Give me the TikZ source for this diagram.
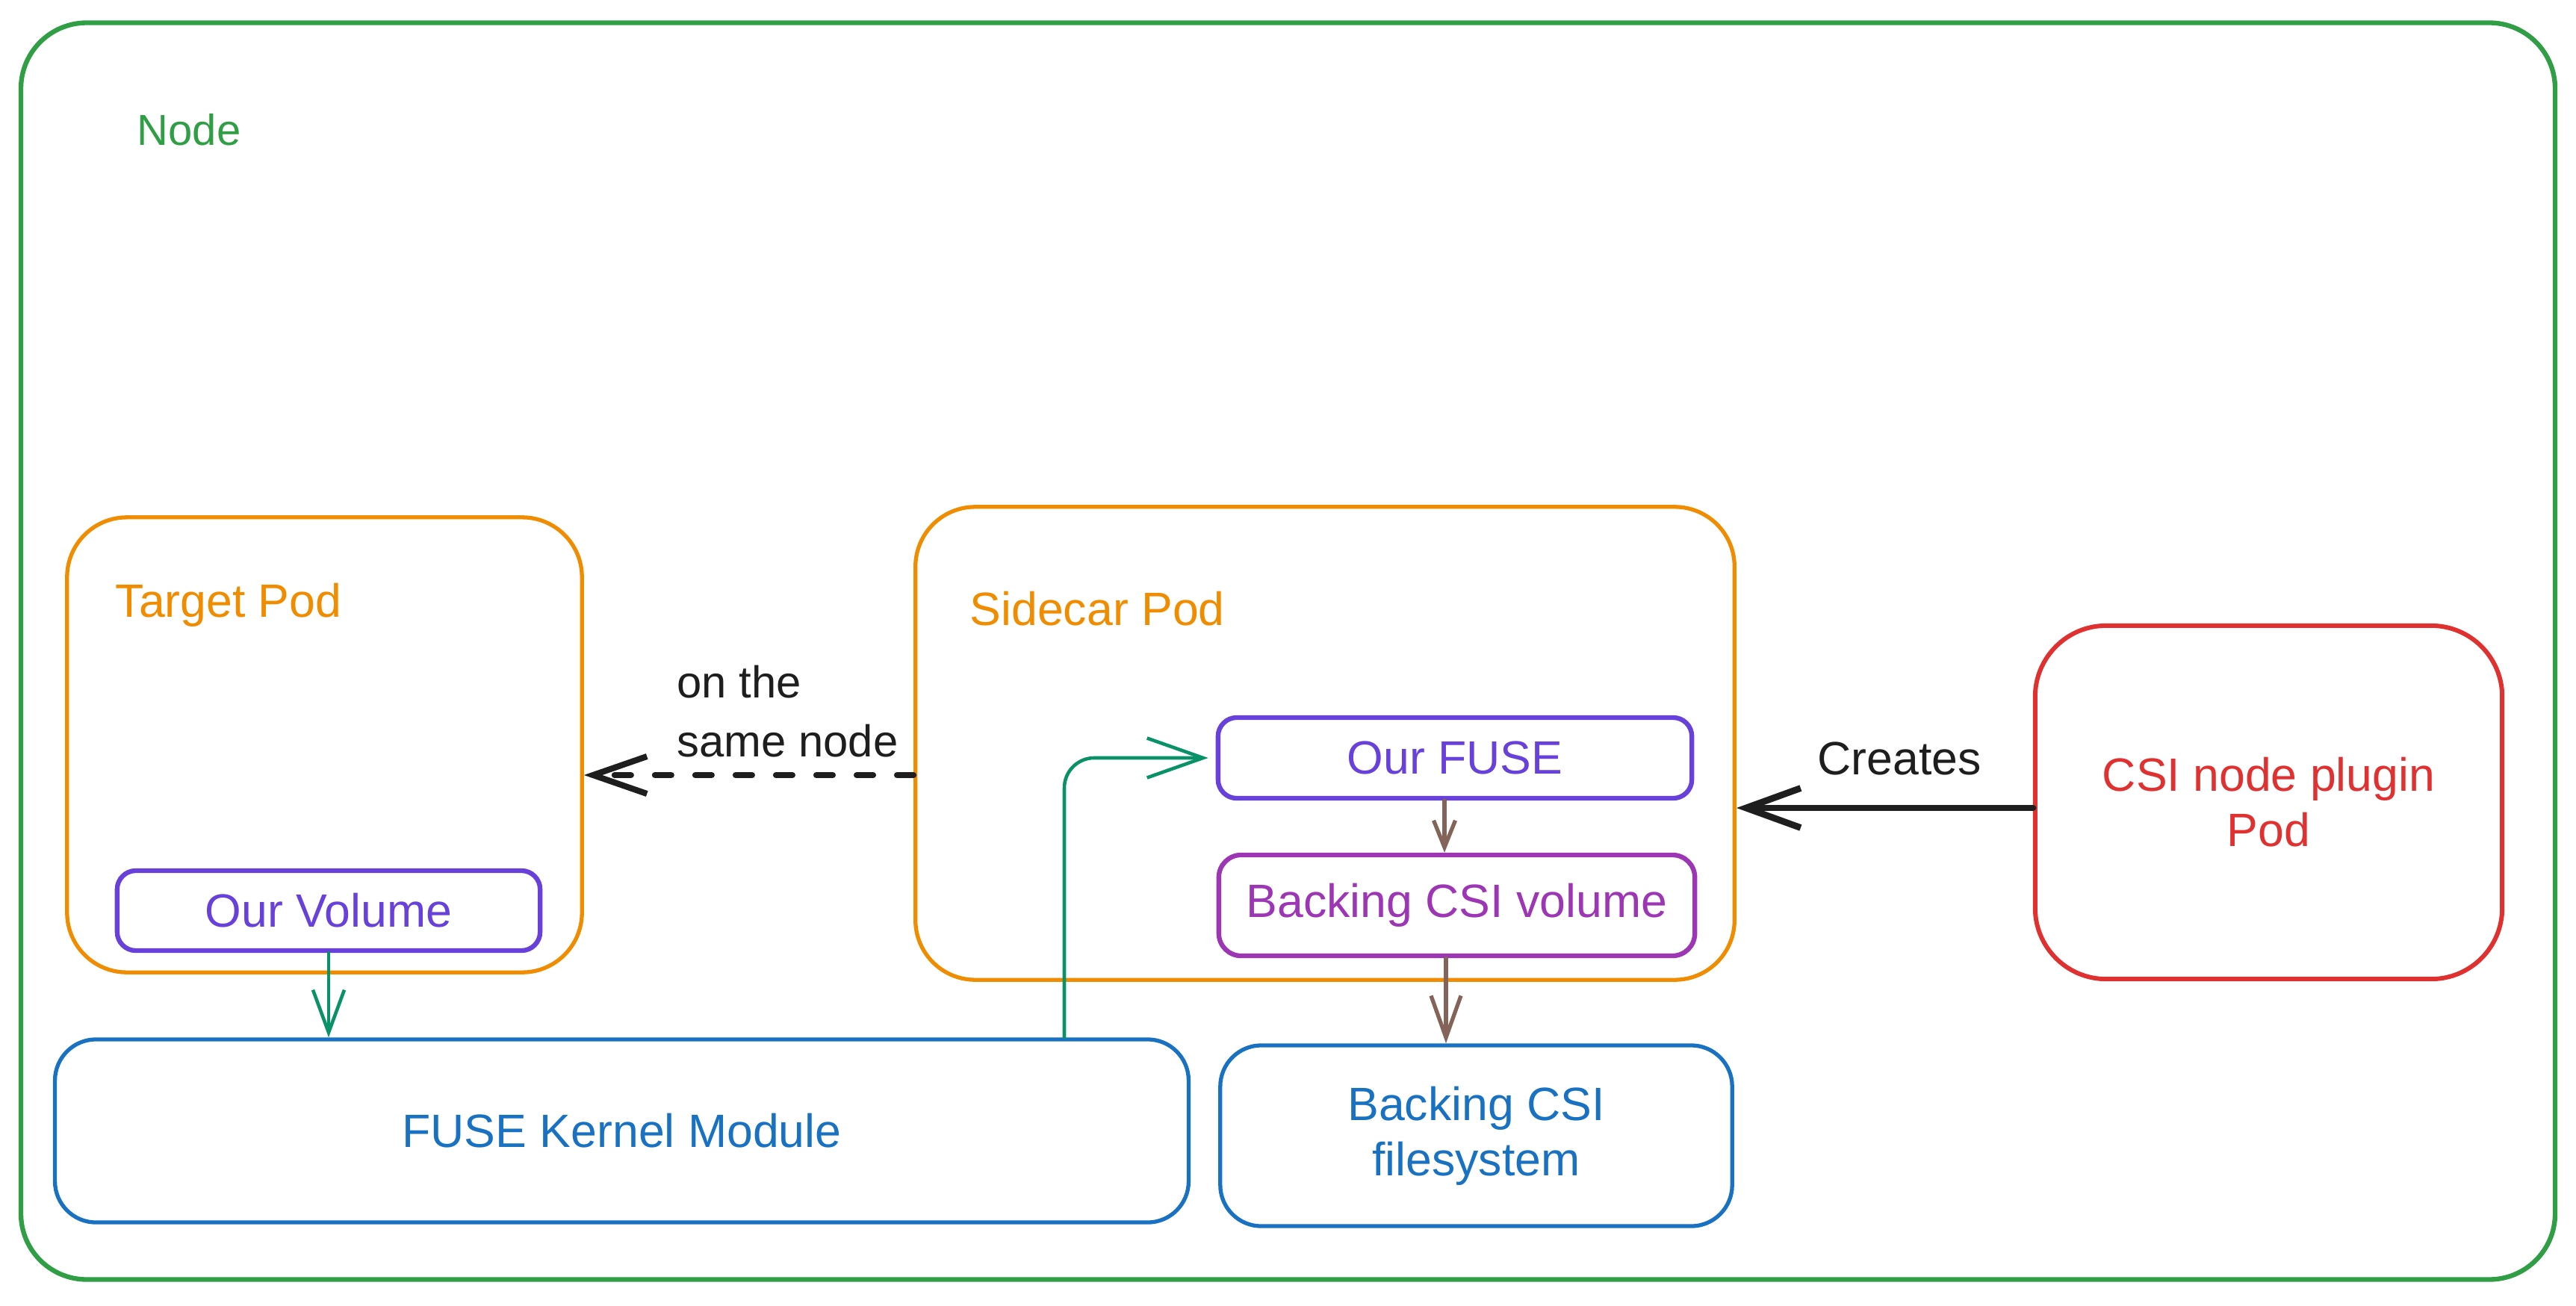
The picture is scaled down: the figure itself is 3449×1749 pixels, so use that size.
\documentclass[tikz,border=0pt]{standalone}
\usepackage{fontspec}
\setmainfont{Liberation Sans}
\usetikzlibrary{arrows.meta}
\definecolor{cgreen}{HTML}{2F9E44}
\definecolor{corange}{HTML}{F08C00}
\definecolor{cblue}{HTML}{1971C2}
\definecolor{cviolet}{HTML}{6741D9}
\definecolor{cpurple}{HTML}{9C36B5}
\definecolor{cred}{HTML}{E03131}
\definecolor{cbrown}{HTML}{846358}
\definecolor{cteal}{HTML}{099268}
\definecolor{cblack}{HTML}{1E1E1E}
\tikzset{
  txt/.style={font=\fontsize{17.8}{21}\selectfont, inner sep=0pt, align=center},
  box/.style={draw=#1, line width=1.5pt, fill=none, inner sep=0pt, txt, text=#1},
  darr/.style={draw=cblack, line width=2.3pt, line cap=round, dash pattern=on 0.22cm off 0.32cm,
    -{Straight Barb[length=0.72cm, width=0.5cm, line width=2.3pt]}},
  carr/.style={draw=cblack, line width=2.5pt, line cap=round,
    -{Straight Barb[length=0.73cm, width=0.53cm, line width=2.5pt]}},
  garr/.style={draw=cteal, line width=1.3pt, line cap=round,
    -{Straight Barb[length=#1]}},
  barr/.style={draw=cbrown, line width=1.5pt, line cap=round,
    -{Straight Barb[length=#1]}},
}
\begin{document}
\begin{tikzpicture}[x=0.01cm, y=-0.01cm]
\useasboundingbox (0,0) rectangle (3449,1749);
% outer node box
\node[box=cgreen, line width=1.8pt, rounded corners=0.88cm, minimum width=33.91cm, minimum height=16.82cm] (nodebox) at (1724.5,872) {};
\node[txt, font=\fontsize{16.5}{21}\selectfont, text=cgreen, anchor=west] (nodelbl) at (183,174) {Node};
% target pod
\node[box=corange, rounded corners=0.8cm, minimum width=6.89cm, minimum height=6.09cm] (target) at (434.5,997.5) {};
\node[txt, text=corange, anchor=west] (targetlbl) at (154,810) {Target Pod};
\node[box=cviolet, line width=1.8pt, rounded corners=0.25cm, minimum width=5.66cm, minimum height=1.07cm] (ourvol) at (440,1219.5) {Our Volume};
% sidecar pod
\node[box=corange, rounded corners=0.8cm, minimum width=10.96cm, minimum height=6.33cm] (sidecar) at (1774,995.5) {};
\node[txt, text=corange, anchor=west] (sidecarlbl) at (1298,815) {Sidecar Pod};
\node[box=cviolet, line width=1.8pt, rounded corners=0.25cm, minimum width=6.34cm, minimum height=1.08cm] (ourfuse) at (1948,1015) {Our FUSE};
\node[box=cpurple, line width=1.8pt, rounded corners=0.3cm, minimum width=6.37cm, minimum height=1.35cm] (bvol) at (1950.5,1212.5) {Backing CSI volume};
% bottom boxes
\node[box=cblue, rounded corners=0.55cm, minimum width=15.17cm, minimum height=2.45cm] (fkm) at (832.5,1514.5) {FUSE Kernel Module};
\node[box=cblue, rounded corners=0.55cm, minimum width=6.85cm, minimum height=2.42cm] (bfs) at (1976.5,1521) {Backing CSI\\filesystem};
% CSI plugin
\node[box=cred, line width=1.7pt, rounded corners=0.95cm, minimum width=6.25cm, minimum height=4.73cm] (csi) at (3037.5,1074.5) {CSI node plugin\\Pod};
% connectors
\coordinate (dy) at (0,1038);
\draw[darr] (sidecar.west |- dy) -- (target.east |- dy);
\node[txt, font=\fontsize{17}{22.5}\selectfont, text=cblack, anchor=north west, align=left] (samenode) at (906,890) {on the\\same node};
\coordinate (cy) at (0,1082);
\draw[carr] (csi.west |- cy) -- (sidecar.east |- cy);
\node[txt, text=cblack] (creates) at (2543,1016) {Creates};
\draw[garr={0.57cm, width=0.42cm}] (ourvol.south) -- (ourvol.south |- fkm.north);
\coordinate (gx) at (1425,0);
\draw[garr={0.75cm, width=0.53cm}, rounded corners=0.4cm] (fkm.north -| gx) |- ([xshift=-0.1cm]ourfuse.west);
\coordinate (bx) at (1934,0);
\draw[barr={0.36cm, width=0.29cm}] (ourfuse.south -| bx) -- (bvol.north -| bx);
\coordinate (bx2) at (1936,0);
\draw[barr={0.56cm, width=0.40cm}] (bvol.south -| bx2) -- (bfs.north -| bx2);
\end{tikzpicture}
\end{document}
